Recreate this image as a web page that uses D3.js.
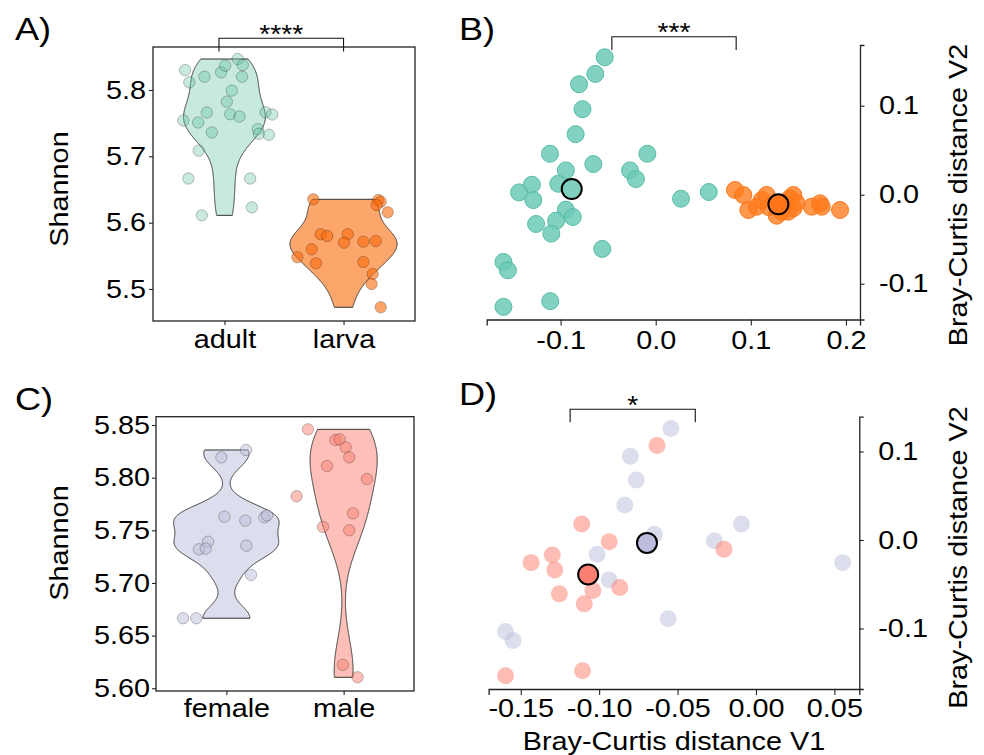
<!DOCTYPE html>
<html>
<head>
<meta charset="utf-8">
<script src="https://cdn.jsdelivr.net/npm/d3@7"></script>
<style>
  body { margin: 0; background: #fff; }
  text { font-family: "Liberation Sans", Arial, sans-serif; fill: #000; }
</style>
</head>
<body>
<div id="main"></div>
<script>
// A) Shannon by life stage
const stageCats = ["adult", "larva"];
const adultShannon = [5.830, 5.8116, 5.820, 5.8267, 5.8366, 5.8467, 5.8377, 5.820, 5.799, 5.7824, 5.766, 5.751, 5.754, 5.736, 5.7635, 5.760, 5.7665, 5.763, 5.741, 5.734, 5.7325, 5.7085, 5.6665, 5.6665, 5.623, 5.611];
const adultX = [0.669, 0.705, 0.832, 0.972, 1.006, 1.112, 1.154, 1.148, 1.062, 1.020, 0.852, 0.779, 0.655, 0.894, 1.048, 1.126, 1.345, 1.401, 1.280, 1.289, 1.373, 0.784, 0.697, 1.216, 1.230, 0.810];
const larvaShannon = [5.6352, 5.6342, 5.6316, 5.6266, 5.6156, 5.5825, 5.5799, 5.5825, 5.5698, 5.5713, 5.5724, 5.5598, 5.5478, 5.5387, 5.5407, 5.5226, 5.5075, 5.4724];
const larvaX = [1.746, 2.292, 2.312, 2.278, 2.371, 1.808, 1.863, 2.035, 2.004, 2.166, 2.270, 1.732, 1.612, 1.769, 2.166, 2.245, 2.236, 2.312];
const aTicks = [5.5, 5.6, 5.7, 5.8];

// B) Bray-Curtis ordination by life stage
const bAdultV1 = [-0.0536, -0.0635, -0.0806, -0.0770, -0.0842, -0.1112, -0.0088, -0.0656, -0.0945, -0.0270, -0.0208, -0.1025, -0.1302, -0.1437, -0.1287, 0.0266, 0.0558, -0.0945, -0.0872, -0.1047, -0.1258, -0.1098, -0.0562, -0.1601, -0.1554, -0.1109, -0.1601];
const bAdultV2 = [0.1544, 0.1357, 0.1241, 0.0961, 0.0680, 0.0460, 0.0460, 0.0344, 0.0273, 0.0273, 0.0176, 0.0123, 0.0112, 0.0026, -0.0060, -0.0045, 0.0030, -0.0168, -0.0250, -0.0292, -0.0329, -0.0437, -0.0609, -0.0755, -0.0849, -0.1196, -0.1260];
const bLarvaV1 = [0.0834, 0.0921, 0.0974, 0.1115, 0.1062, 0.1272, 0.1412, 0.1447, 0.1447, 0.1394, 0.1640, 0.1728, 0.1746, 0.1938, 0.1167, 0.1325, 0.1188, 0.1480];
const bLarvaV2 = [0.0053, -0.0003, -0.0172, -0.0060, -0.0135, -0.0236, -0.0040, -0.0003, -0.0153, -0.0191, -0.0135, -0.0097, -0.0135, -0.0172, -0.0003, -0.0194, -0.0139, -0.0090];
const bCentroidV1 = [-0.0883, 0.1290];
const bCentroidV2 = [0.0064, -0.0108];
const bTicksX = [-0.1, 0, 0.1, 0.2];
const bTicksY = [-0.1, 0, 0.1];

// C) Shannon by sex
const sexCats = ["female", "male"];
const femaleShannon = [5.8193, 5.8263, 5.763, 5.7592, 5.7623, 5.7642, 5.7392, 5.732, 5.7326, 5.7354, 5.7076, 5.6665, 5.6665];
const femaleX = [0.957, 1.168, 0.983, 1.162, 1.324, 1.347, 0.844, 0.767, 0.824, 1.170, 1.210, 0.631, 0.744];
const maleShannon = [5.8459, 5.8358, 5.8364, 5.8288, 5.8193, 5.8111, 5.7987, 5.7823, 5.7661, 5.7532, 5.750, 5.6222, 5.6104];
const maleX = [1.696, 1.929, 1.966, 2.017, 2.048, 1.858, 2.199, 1.599, 2.080, 1.824, 2.048, 1.994, 2.119];
const cTicks = [5.60, 5.65, 5.70, 5.75, 5.80, 5.85];

// D) Bray-Curtis ordination by sex
const dFemaleV1 = [-0.0542, -0.0801, -0.0763, -0.0836, -0.0093, -0.0648, -0.0265, -0.1013, -0.0936, -0.0560, -0.1597, -0.1549, 0.0553];
const dFemaleV2 = [0.1259, 0.0947, 0.0677, 0.0395, 0.0180, 0.0064, -0.0008, -0.0162, -0.0451, -0.0891, -0.1034, -0.1135, -0.0256];
const dMaleV1 = [-0.0631, -0.1111, -0.0936, -0.1299, -0.1434, -0.1283, -0.0869, -0.1040, -0.1254, -0.1095, -0.0204, -0.1106, -0.1597];
const dMaleV2 = [0.1068, 0.0180, -0.0019, -0.0169, -0.0256, -0.0338, -0.0538, -0.0571, -0.0609, -0.0722, -0.0105, -0.1477, -0.1534];
const dCentroidV1 = [-0.0695, -0.1070];
const dCentroidV2 = [-0.0033, -0.0390];
const dTicksX = [-0.15, -0.10, -0.05, 0, 0.05];
const dTicksY = [-0.1, 0, 0.1];

// significance brackets: [from, to, top, bottom]
const sigLabels = ["****", "***", "*"];
const sigA = [0.954, 2.0, 5.878, 5.858];
const sigB = [-0.0461, 0.0846, 0.1775, 0.1626];
const sigD = [-0.1185, -0.0387, 0.1477, 0.1330];

const SX = 1.13; // the figure's sans is wider than Liberation Sans
const FS = 25.5;

const svg = d3.select('#main')
    .append('svg')
    .attr('width', 984)
    .attr('height', 755);

function label(x, y, txt, size, anchor, rot)
{
    svg.append('text')
        .attr('transform', `translate(${x},${y})` + (rot ? ` rotate(${rot})` : '') + ` scale(${SX},1)`)
        .attr('text-anchor', anchor)
        .attr('font-size', size)
        .text(txt);
}

function styleAxis(g)
{
    g.selectAll('text')
        .attr('font-size', FS)
        .attr('font-family', '"Liberation Sans", Arial, sans-serif')
        .attr('fill', '#000')
        .attr('transform', `scale(${SX},1)`);
    g.selectAll('line').attr('stroke', '#222').attr('stroke-width', 1.1);
    g.select('.domain').attr('stroke', '#222').attr('stroke-width', 1.3);
}

// gaussian kde like R density(), bw.nrd0, trimmed to the data range
function kde(vals)
{
    const s = vals.slice().sort(d3.ascending);
    const sd = d3.deviation(s);
    const iqr = d3.quantileSorted(s, 0.75) - d3.quantileSorted(s, 0.25);
    const lo = Math.min(sd, iqr / 1.34) || sd;
    const bw = 0.9 * lo * Math.pow(s.length, -0.2);
    const a = s[0], b = s[s.length - 1];
    return d3.range(512).map(i =>
    {
        const v = a + (b - a) * i / 511;
        const d = d3.mean(s, x => Math.exp(-0.5 * ((v - x) / bw) ** 2)) / (bw * Math.sqrt(2 * Math.PI));
        return {v: v, d: d};
    });
}

function bracket(x, y, sig, txt)
{
    svg.append('path')
        .attr('d', d3.line()([[x(sig[0]), y(sig[3])], [x(sig[0]), y(sig[2])], [x(sig[1]), y(sig[2])], [x(sig[1]), y(sig[3])]]))
        .attr('fill', 'none')
        .attr('stroke', '#111')
        .attr('stroke-width', 1.1);
    label((x(sig[0]) + x(sig[1])) / 2, y(sig[2]) + 4.5, txt, 25, 'middle');
}

function violinPanel(opt)
{
    const x = d3.scaleLinear().domain([0.4, 2.6]).range(opt.xr);
    const y = d3.scaleLinear().domain(opt.yd).range(opt.yr);
    const dens = opt.groups.map(g => kde(g.vals));
    const maxD = d3.max(dens, ds => d3.max(ds, d => d.d));

    dens.forEach((ds, i) =>
    {
        const c = i + 1;
        svg.append('path')
            .datum(ds)
            .attr('d', d3.area()
                .y(d => y(d.v))
                .x0(d => x(c - 0.45 * d.d / maxD))
                .x1(d => x(c + 0.45 * d.d / maxD)))
            .attr('fill', opt.groups[i].color)
            .attr('fill-opacity', opt.groups[i].alpha)
            .attr('stroke', '#333')
            .attr('stroke-width', 1);
    });

    opt.groups.forEach(g =>
    {
        svg.append('g')
            .selectAll('circle')
            .data(g.vals)
            .join('circle')
            .attr('cx', (d, i) => x(g.xs[i]))
            .attr('cy', d => y(d))
            .attr('r', 5.7)
            .attr('fill', g.color)
            .attr('fill-opacity', g.alpha)
            .attr('stroke', 'rgba(0,0,0,0.3)')
            .attr('stroke-width', 0.8);
    });

    svg.append('rect')
        .attr('x', opt.xr[0]).attr('y', opt.yr[1])
        .attr('width', opt.xr[1] - opt.xr[0]).attr('height', opt.yr[0] - opt.yr[1])
        .attr('fill', 'none')
        .attr('stroke', '#222')
        .attr('stroke-width', 1.3);

    const gy = svg.append('g')
        .attr('transform', `translate(${opt.xr[0]},0)`)
        .call(d3.axisLeft(y).tickValues(opt.ticks).tickFormat(d => d.toFixed(opt.dec)).tickSizeOuter(0).tickSize(4).tickPadding(opt.padY));
    gy.select('.domain').remove();
    styleAxis(gy);

    const gx = svg.append('g')
        .attr('transform', `translate(0,${opt.yr[0]})`)
        .call(d3.axisBottom(x).tickValues([1, 2]).tickFormat(d => opt.cats[d - 1]).tickSizeOuter(0).tickSize(4).tickPadding(opt.padX));
    gx.select('.domain').remove();
    styleAxis(gx);

    label(68, opt.titleY, 'Shannon', FS, 'middle', -90);
    return {x: x, y: y};
}

function ordPanel(opt)
{
    const x = d3.scaleLinear().domain(opt.xd).range(opt.xr);
    const y = d3.scaleLinear().domain(opt.yd).range(opt.yr);

    opt.groups.forEach(g =>
    {
        svg.append('g')
            .selectAll('circle')
            .data(g.v1)
            .join('circle')
            .attr('cx', d => x(d))
            .attr('cy', (d, i) => y(g.v2[i]))
            .attr('r', 8.5)
            .attr('fill', g.color)
            .attr('fill-opacity', g.alpha)
            .attr('stroke', g.stroke || 'none')
            .attr('stroke-width', 1);
    });

    svg.append('g')
        .selectAll('circle')
        .data(opt.cv1)
        .join('circle')
        .attr('cx', d => x(d))
        .attr('cy', (d, i) => y(opt.cv2[i]))
        .attr('r', 10)
        .attr('fill', (d, i) => opt.ccolors[i])
        .attr('stroke', '#000')
        .attr('stroke-width', 2);

    const gx = svg.append('g')
        .attr('transform', `translate(0,${opt.yr[0]})`)
        .call(d3.axisBottom(x).tickValues(opt.ticksX).tickFormat(d => d.toFixed(opt.decX)).tickSizeOuter(0).tickSize(6).tickPadding(opt.padX));
    styleAxis(gx);

    const gy = svg.append('g')
        .attr('transform', `translate(${opt.xr[1]},0)`)
        .call(d3.axisRight(y).tickValues(opt.ticksY).tickFormat(d => d.toFixed(1)).tickSizeOuter(0).tickSize(4.5).tickPadding(12.3));
    styleAxis(gy);

    label(967, opt.titleY, 'Bray-Curtis distance V2', FS, 'middle', -90);
    return {x: x, y: y};
}

// A
const pA = violinPanel({
    xr: [153, 415], yr: [321, 47], yd: [5.4517, 5.8648],
    cats: stageCats, ticks: aTicks, dec: 1, padY: 2.2, padX: 5.2, titleY: 189,
    groups: [
        {vals: adultShannon, xs: adultX, color: '#66c2a5', alpha: 0.37},
        {vals: larvaShannon, xs: larvaX, color: '#fc6b0a', alpha: 0.6}
    ]
});
bracket(pA.x, pA.y, sigA, sigLabels[0]);

// B
const pB = ordPanel({
    xr: [486.7, 860], yr: [319.5, 45], xd: [-0.1777, 0.2148], yd: [-0.1402, 0.1682],
    ticksX: bTicksX, ticksY: bTicksY, decX: 1, padX: 5.9, titleY: 195,
    groups: [
        {v1: bAdultV1, v2: bAdultV2, color: '#6ccab6', alpha: 0.85, stroke: '#58bca6'},
        {v1: bLarvaV1, v2: bLarvaV2, color: '#ff7a1a', alpha: 0.78, stroke: '#fb7a20'}
    ],
    cv1: bCentroidV1, cv2: bCentroidV2, ccolors: ['#80d0bf', '#ff7518']
});
bracket(pB.x, pB.y, sigB, sigLabels[1]);

// C
violinPanel({
    xr: [156, 414], yr: [691, 416.7], yd: [5.5974, 5.8579],
    cats: sexCats, ticks: cTicks, dec: 2, padY: 1.3, padX: 3.6, titleY: 543,
    groups: [
        {vals: femaleShannon, xs: femaleX, color: '#bcbddc', alpha: 0.5},
        {vals: maleShannon, xs: maleX, color: '#fb8072', alpha: 0.5}
    ]
});

// D
const pD = ordPanel({
    xr: [488.6, 859.3], yr: [689, 416.7], xd: [-0.1705, 0.0659], yd: [-0.1684, 0.1393],
    ticksX: dTicksX, ticksY: dTicksY, decX: 2, padX: 3.6, titleY: 557.5,
    groups: [
        {v1: dFemaleV1, v2: dFemaleV2, color: '#bcbddc', alpha: 0.5},
        {v1: dMaleV1, v2: dMaleV2, color: '#fb8072', alpha: 0.52}
    ],
    cv1: dCentroidV1, cv2: dCentroidV2, ccolors: ['#bcbddc', '#fb8072']
});
bracket(pD.x, pD.y, sigD, sigLabels[2]);
label(674, 750, 'Bray-Curtis distance V1', FS, 'middle');

// panel letters
label(15, 40, 'A)', 32, 'start');
label(459, 40, 'B)', 32, 'start');
label(15, 410, 'C)', 32, 'start');
label(459, 405, 'D)', 32, 'start');
</script>
</body>
</html>
